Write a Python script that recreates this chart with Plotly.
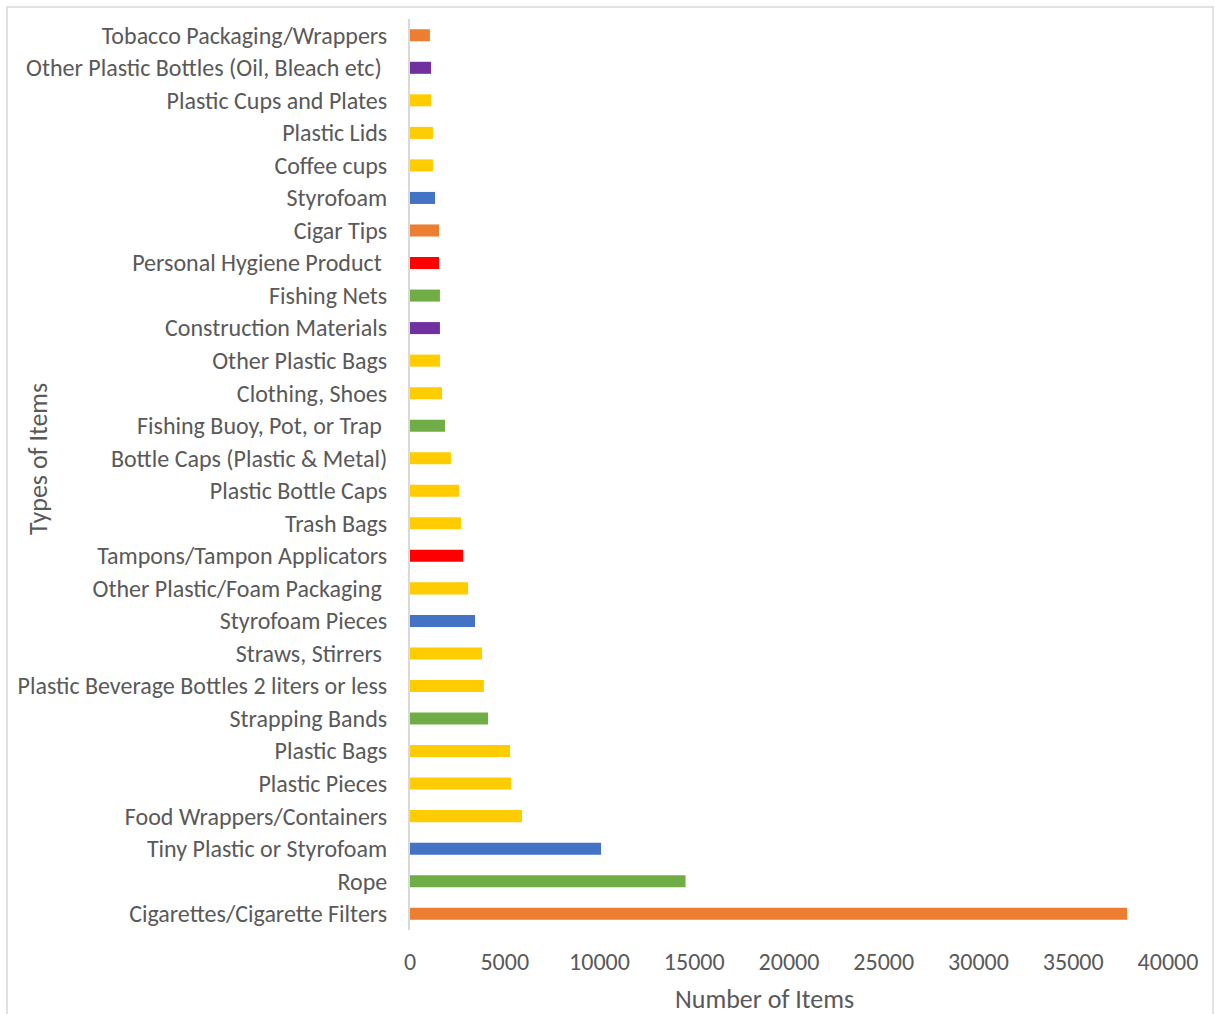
import plotly.graph_objects as go

# Beach-cleanup litter counts, listed from the bottom bar upward
items = [
    "Cigarettes/Cigarette Filters",
    "Rope",
    "Tiny Plastic or Styrofoam",
    "Food Wrappers/Containers",
    "Plastic Pieces",
    "Plastic Bags",
    "Strapping Bands",
    "Plastic Beverage Bottles 2 liters or less",
    "Straws, Stirrers\u00a0",
    "Styrofoam Pieces",
    "Other Plastic/Foam Packaging\u00a0",
    "Tampons/Tampon Applicators",
    "Trash Bags",
    "Plastic Bottle Caps",
    "Bottle Caps (Plastic & Metal)",
    "Fishing Buoy, Pot, or Trap\u00a0",
    "Clothing, Shoes",
    "Other Plastic Bags",
    "Construction Materials",
    "Fishing Nets",
    "Personal Hygiene Product\u00a0",
    "Cigar Tips",
    "Styrofoam",
    "Coffee cups",
    "Plastic Lids",
    "Plastic Cups and Plates",
    "Other Plastic Bottles (Oil, Bleach etc)\u00a0",
    "Tobacco Packaging/Wrappers",
]
counts = [
    37840, 14540, 10080, 5910, 5330, 5280, 4120, 3900, 3800, 3430,
    3060, 2800, 2690, 2590, 2160, 1850, 1690, 1580, 1580, 1580,
    1530, 1530, 1320, 1210, 1210, 1110, 1110, 1050,
]
groups = [
    "smoking", "fishing", "foam", "plastic", "plastic", "plastic", "fishing",
    "plastic", "plastic", "foam", "plastic", "hygiene", "plastic", "plastic",
    "plastic", "fishing", "plastic", "plastic", "other", "fishing", "hygiene",
    "smoking", "foam", "plastic", "plastic", "plastic", "other", "smoking",
]
x_ticks = [0, 5000, 10000, 15000, 20000, 25000, 30000, 35000, 40000]

group_colors = {
    "smoking": "#ED7D31",
    "fishing": "#70AD47",
    "foam": "#4472C4",
    "plastic": "#FFCC00",
    "hygiene": "#FF0000",
    "other": "#7030A0",
}

FONT = "Calibri, Carlito, Lato, sans-serif"
GREY = "#595959"

fig = go.Figure(
    go.Bar(
        x=counts,
        y=items,
        orientation="h",
        marker=dict(color=[group_colors[g] for g in groups], line=dict(width=0)),
    )
)

L, R, T, B = 410, 47, 19, 84
W, H = 1215, 1014
pw, ph = W - L - R, H - T - B

fig.update_layout(
    width=W,
    height=H,
    margin=dict(l=L, r=R, t=T, b=B),
    paper_bgcolor="white",
    plot_bgcolor="white",
    bargap=0.63,
    showlegend=False,
    font=dict(family=FONT, color=GREY, size=24),
)

fig.update_xaxes(
    range=[0, 40000],
    tickvals=x_ticks,
    ticktext=[str(v) for v in x_ticks],
    showgrid=False,
    zeroline=False,
    showline=False,
    ticks="outside",
    ticklen=10,
    tickcolor="rgba(0,0,0,0)",
    tickfont=dict(size=24, color=GREY),
)
fig.update_yaxes(
    type="category",
    categoryorder="array",
    categoryarray=items,
    showgrid=False,
    showline=True,
    linecolor="#D9D9D9",
    linewidth=2,
    ticks="outside",
    ticklen=16,
    tickcolor="rgba(0,0,0,0)",
    tickfont=dict(size=24, color=GREY),
)

# axis titles
fig.add_annotation(
    text="Number of Items", xref="paper", yref="paper",
    x=(764 - L) / pw, y=-(999 - (T + ph)) / ph,
    showarrow=False, font=dict(size=26, color=GREY), xanchor="center", yanchor="middle",
)
fig.add_annotation(
    text="Types of Items", xref="paper", yref="paper",
    x=(38 - L) / pw, y=1 - (459 - T) / ph, textangle=-90,
    showarrow=False, font=dict(size=26, color=GREY), xanchor="center", yanchor="middle",
)

# chart frame
fig.add_shape(
    type="rect", xref="paper", yref="paper",
    x0=(7 - L) / pw, x1=(1213 - L) / pw,
    y0=-(1040 - (T + ph)) / ph, y1=1 + (T - 7) / ph,
    line=dict(color="#D9D9D9", width=1.5), fillcolor="rgba(0,0,0,0)", layer="below",
)

fig.write_html("out.html")
